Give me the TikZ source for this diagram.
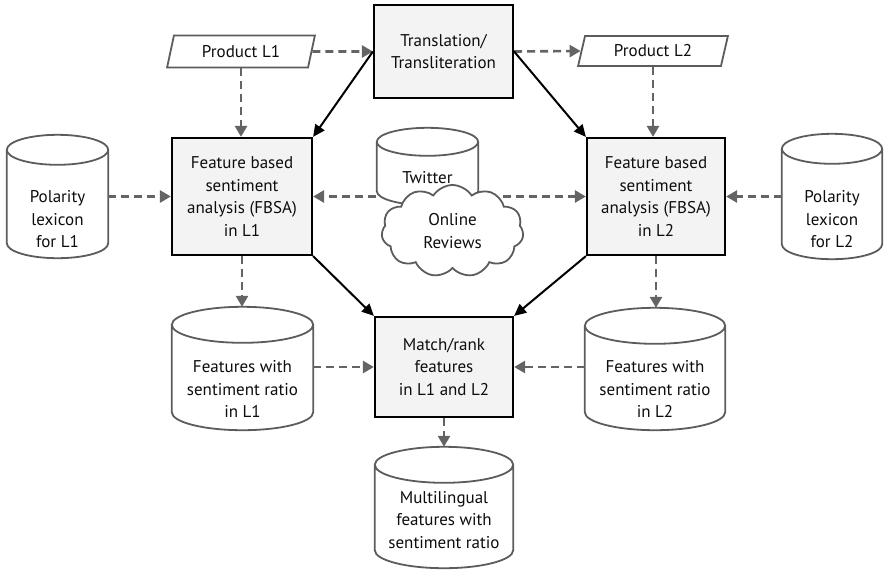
\documentclass[tikz,border=0pt]{standalone}
\usepackage{fontspec}
\setmainfont{PT Sans}
\usetikzlibrary{shapes.geometric,shapes.symbols,arrows.meta,calc}
\pgfdeclarelayer{bg}
\pgfsetlayers{bg,main}
\definecolor{cylgray}{RGB}{92,92,92}
\definecolor{arrgray}{RGB}{100,100,100}
\definecolor{boxfill}{RGB}{243,243,243}
\tikzset{
  txt/.style={font=\fontsize{17}{22.5}\selectfont, align=center, text=black!95},
  boxnode/.style={txt, draw=black, line width=2.2pt, fill=boxfill, inner sep=0pt},
  paranode/.style={txt, trapezium, trapezium left angle=72, trapezium right angle=108,
    trapezium stretches=true, draw=cylgray, line width=1.8pt, fill=white, inner sep=0pt},
  cylnode/.style={draw=none, inner sep=0pt},
  cylline/.style={draw=cylgray, line width=1.8pt, fill=white, line join=round},
  cloudnode/.style={txt, cloud, cloud puffs=11, cloud puff arc=115, draw=cylgray,
    line width=1.8pt, fill=white, inner sep=0pt},
  dasharrow/.style={draw=arrgray, line width=2.6pt, dash pattern=on 8pt off 5pt,
    -{Triangle[length=11pt,width=12pt]}},
  solidarrow/.style={draw=black, line width=2pt, -{Triangle[length=12pt,width=11pt]}}
}
\newcommand\drawcyl[2]{%
  \draw[cylline] let \p1=(#1.north west), \p2=(#1.south east), \n1={(\x2-\x1)/2} in
    (\x1,{\y1-#2}) -- (\x1,{\y2+#2})
    arc[start angle=180,end angle=360,x radius=\n1,y radius=#2]
    -- (\x2,{\y1-#2})
    arc[start angle=0,end angle=180,x radius=\n1,y radius=#2]
    arc[start angle=180,end angle=360,x radius=\n1,y radius=#2];
}
\begin{document}
\begin{tikzpicture}[x=1pt,y=-1pt]
\useasboundingbox (0,0) rectangle (884,571);
% boxes
\node[boxnode, minimum width=139pt, minimum height=93pt] (trans) at (443.5,51.5) {Translation/\\Transliteration};
\node[boxnode, minimum width=140pt, minimum height=117pt] (fb1) at (242,196.5) {Feature based\\sentiment\\analysis (FBSA)\\in L1};
\node[boxnode, minimum width=138pt, minimum height=117pt] (fb2) at (656,196.5) {Feature based\\sentiment\\analysis (FBSA)\\in L2};
\node[boxnode, minimum width=138pt, minimum height=100pt] (match) at (444,367) {Match/rank\\features\\in L1 and L2};
% parallelograms
\node[paranode, minimum width=148pt, minimum height=32pt] (p1) at (241,51.5) {Product L1};
\node[paranode, minimum width=150pt, minimum height=30pt] (p2) at (653,51) {Product L2};
% cylinders
\node[cylnode, minimum width=101pt, minimum height=123pt] (pol1) at (57.5,196.5) {};
\drawcyl{pol1}{15pt}
\node[txt] (pol1t) at (57.5,219.5) {Polarity\\lexicon\\for L1};
\node[cylnode, minimum width=100pt, minimum height=125pt] (pol2) at (832,196.5) {};
\drawcyl{pol2}{15pt}
\node[txt] (pol2t) at (832,219.5) {Polarity\\lexicon\\for L2};
\node[cylnode, minimum width=141pt, minimum height=123pt] (feat1) at (242.5,368.5) {};
\drawcyl{feat1}{18pt}
\node[txt] (feat1t) at (242.5,389) {Features with\\sentiment ratio\\in L1};
\node[cylnode, minimum width=140pt, minimum height=122pt] (feat2) at (655,369) {};
\drawcyl{feat2}{18pt}
\node[txt] (feat2t) at (655,389) {Features with\\sentiment ratio\\in L2};
\node[cylnode, minimum width=138pt, minimum height=121pt] (multi) at (444,507.5) {};
\drawcyl{multi}{18pt}
\node[txt] (multit) at (444,520) {Multilingual\\features with\\sentiment ratio};
\node[cylnode, minimum width=101pt, minimum height=77pt] (twit) at (427.5,166.5) {};
\drawcyl{twit}{14pt}
\node[txt] (twitt) at (427.5,178) {Twitter};
\node[cloudnode, minimum width=142pt, minimum height=88pt] (cloud) at (452.5,231) {Online\\Reviews};
\coordinate (rstart) at (503,196.5);
% connectors
\begin{pgfonlayer}{bg}
\draw[dasharrow] (fb1.east -| twit.center) -- (fb1.east);
\draw[dasharrow] (rstart) -- (fb2.west);
\end{pgfonlayer}
\draw[dasharrow] (p1.east) -- (trans.west);
\draw[dasharrow] (trans.east) -- (p2.west);
\draw[dasharrow] (p1.south) -- (p1.south |- fb1.north);
\draw[dasharrow] (p2.south) -- (p2.south |- fb2.north);
\draw[dasharrow] (pol1.east) -- (fb1.west);
\draw[dasharrow] (pol2.west) -- (fb2.east);
\draw[dasharrow] (fb1.south) -- (fb1.south |- feat1.north);
\draw[dasharrow] (fb2.south) -- (fb2.south |- feat2.north);
\draw[dasharrow] (feat1.east |- match.west) -- (match.west);
\draw[dasharrow] (feat2.west |- match.east) -- (match.east);
\draw[dasharrow] (match.south) -- (multi.north);
\draw[solidarrow] (trans.west) -- (fb1.north east);
\draw[solidarrow] (trans.east) -- (fb2.north west);
\draw[solidarrow] (fb1.south east) -- (match.north west);
\draw[solidarrow] (fb2.south west) -- (match.north east);
\end{tikzpicture}
\end{document}
